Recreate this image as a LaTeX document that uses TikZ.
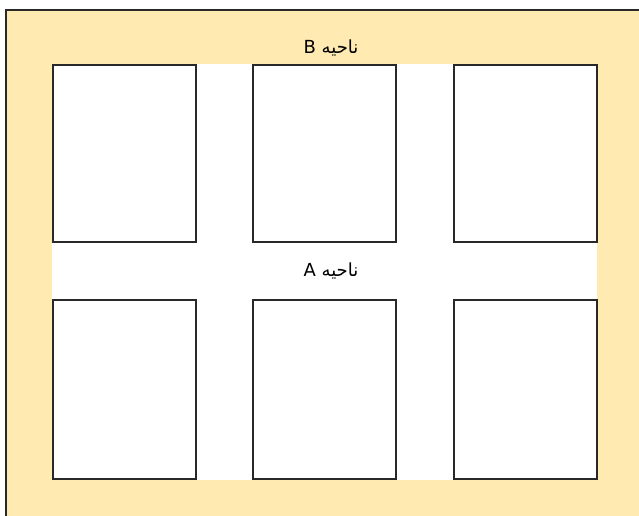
\documentclass[tikz,border=0pt]{standalone}
\usepackage{fontspec}
\setmainfont{DejaVu Sans}
\newfontfamily\arabicfont[Script=Arabic]{DejaVu Sans}
\TeXXeTstate=1
\definecolor{zoneyellow}{RGB}{255,234,178}
\definecolor{edgegray}{RGB}{40,40,40}
\tikzset{
  cell/.style={draw=edgegray, line width=1.8pt, fill=white, minimum width=143pt, minimum height=177pt, inner sep=0pt, anchor=north west},
  zonelabel/.style={font=\fontsize{18pt}{21pt}\selectfont\arabicfont, text=black, inner sep=0pt}
}
\begin{document}
\begin{tikzpicture}[x=1pt,y=-1pt]
\useasboundingbox (0,0) rectangle (639,515);
\clip (0,0) rectangle (639,515);
\draw[draw=edgegray, line width=1.8pt, fill=zoneyellow] (6,10) rectangle (660,540);
\fill[white] (52,64) rectangle (597,480);
\node[cell] (c11) at (52,64) {};
\node[cell] (c12) at (252,64) {};
\node[cell] (c13) at (453,64) {};
\node[cell, minimum height=179pt] (c21) at (52,299) {};
\node[cell, minimum height=179pt] (c22) at (252,299) {};
\node[cell, minimum height=179pt] (c23) at (453,299) {};
\node[zonelabel] (zb) at (331,48) {\beginR ناحیه B\endR};
\node[zonelabel] (za) at (331,271) {\beginR ناحیه A\endR};
\end{tikzpicture}
\end{document}
